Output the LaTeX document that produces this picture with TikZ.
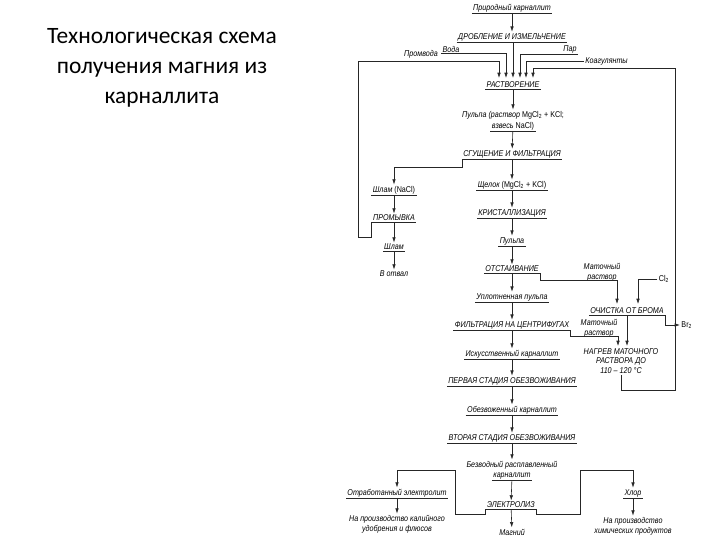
\documentclass[tikz,border=0pt]{standalone}
\usepackage{fontspec}
\newfontfamily\titlefont{Carlito}
\newfontfamily\schemefont[FakeStretch=0.85]{Liberation Sans}
\usetikzlibrary{arrows.meta}
\tikzset{
  lbl/.style={font=\schemefont\itshape\fontsize{7.2}{8.4}\selectfont, inner sep=1pt, align=center},
  flow/.style={-{Latex[length=4.5pt,width=3pt]}},
}
\begin{document}
\begin{tikzpicture}[x=0.03cm, y=-0.03cm, line width=0.5pt, draw=black!85]
            \useasboundingbox (0,0) rectangle (720,540);
            % Titolo
            \node[font=\titlefont\fontsize{20}{25.6}\selectfont, align=center] (ttl) at (162,68) {Технологическая схема\\получения магния из\\карналлита};
            % Colonna principale
            \node[lbl] (pk) at (512,8) {Природный карналлит};
            \node[lbl] (drob) at (512,37) {ДРОБЛЕНИЕ И ИЗМЕЛЬЧЕНИЕ};
            \node[lbl] (voda) at (451,49) {Вода};
            \node[lbl] (par) at (570,49) {Пар};
            \node[lbl] (promvoda) at (421,54) {Промвода};
            \node[lbl, anchor=west] (koag) at (584,61) {Коагулянты};
            \node[lbl] (rast) at (513,85) {РАСТВОРЕНИЕ};
            \node[lbl] (pulpa) at (513,115) {Пульпа (раствор {\upshape MgCl\textsubscript{2} + KCl;}};
            \node[lbl] (pulpab) at (513,126) {взвесь {\upshape NaCl)}};
            \node[lbl] (sgush) at (512,154) {СГУЩЕНИЕ И ФИЛЬТРАЦИЯ};
            \node[lbl] (shch) at (512,185) {Щелок {\upshape (MgCl\textsubscript{2} + KCl)}};
            \node[lbl] (krist) at (512,213) {КРИСТАЛЛИЗАЦИЯ};
            \node[lbl] (pulpa2) at (512,241) {Пульпа};
            \node[lbl] (otst) at (512,269) {ОТСТАИВАНИЕ};
            \node[lbl] (upl) at (512,297) {Уплотненная пульпа};
            \node[lbl] (filt) at (512,325) {ФИЛЬТРАЦИЯ НА ЦЕНТРИФУГАХ};
            \node[lbl] (isk) at (512,354) {Искусственный карналлит};
            \node[lbl] (perv) at (512,381) {ПЕРВАЯ СТАДИЯ ОБЕЗВОЖИВАНИЯ};
            \node[lbl] (obez) at (512,410) {Обезвоженный карналлит};
            \node[lbl] (vtor) at (512,438) {ВТОРАЯ СТАДИЯ ОБЕЗВОЖИВАНИЯ};
            \node[lbl] (bezv) at (512,465) {Безводный расплавленный};
            \node[lbl] (bezvb) at (512,476) {карналлит};
            \node[lbl] (elek) at (511,505) {ЭЛЕКТРОЛИЗ};
            \node[lbl] (magn) at (512,532) {Магний};
            % Шлам
            \node[lbl] (shlam1) at (394,190) {Шлам {\upshape (NaCl)}};
            \node[lbl] (promyvka) at (394,218) {ПРОМЫВКА};
            \node[lbl] (shlam2) at (394,247) {Шлам};
            \node[lbl] (votval) at (394,274) {В отвал};
            % Маточный раствор
            \node[lbl] (mat1) at (602,272) {Маточный\\раствор};
            \node[lbl] (cl) at (664,279) {\upshape Cl\textsubscript{2}};
            \node[lbl] (ochist) at (627,311) {ОЧИСТКА ОТ БРОМА};
            \node[lbl, anchor=west] (br) at (680,325) {\upshape Br\textsubscript{2}};
            \node[lbl] (mat2) at (599,328) {Маточный\\раствор};
            \node[lbl] (nagrev) at (621,361) {НАГРЕВ МАТОЧНОГО\\РАСТВОРА ДО\\110 – 120 °С};
            % Электролиз
            \node[lbl] (otr) at (397,493) {Отработанный электролит};
            \node[lbl] (kal) at (397,524) {На производство калийного\\удобрения и флюсов};
            \node[lbl] (hlor) at (633,493) {Хлор};
            \node[lbl] (him) at (633,526) {На производство\\химических продуктов};
            % Sottolineature
            \foreach \n in {pk,drob,rast,pulpab,sgush,shch,krist,pulpa2,otst,upl,filt,isk,perv,obez,vtor,bezvb,elek,shlam1,promyvka,shlam2,otr,hlor,ochist}
              \draw (\n.south west) -- (\n.south east);
            % Ingressi
            \coordinate (in1) at (499,78);
            \coordinate (in2) at (506,78);
            \coordinate (in3) at (513,78);
            \coordinate (in4) at (520,78);
            \coordinate (in5) at (526,78);
            \coordinate (in6) at (533,78);
            \coordinate (och1) at (617,304);
            \coordinate (och2) at (638,304);
            \coordinate (ng1) at (618,346);
            \coordinate (ng2) at (627,346);
            % Frecce
            \foreach \a/\b in {pk/drob,rast/pulpa,pulpab/sgush,sgush/shch,shch/krist,krist/pulpa2,pulpa2/otst,otst/upl,upl/filt,filt/isk,isk/perv,perv/obez,obez/vtor,vtor/bezv,bezvb/elek,elek/magn,shlam1/promyvka,promyvka/shlam2,shlam2/votval,otr/kal,hlor/him}
              \draw[flow] (\a) -- (\b);
            \draw[flow] (drob.south -| in3) -- (in3);
            \draw[flow] (voda.south west) -| (in2);
            \draw[flow] (par.south east) -| (in4);
            \draw[flow] (koag.west) -| (in5);
            \draw[flow] (promyvka.south west) |- (358,237) |- (499,61) -- (in1);
            \draw[flow] (nagrev.south) |- (675,390) |- (533,68) -- (in6);
            \draw[flow] (sgush.south west) |- (394,167) -- (shlam1);
            \draw[flow] (otst.south east) -- ++(0,7) -| (och1);
            \draw[flow] (cl.west) -| (och2);
            \draw[flow] (ochist.south -| ng2) -- (ng2);
            \draw[flow] (ochist.south east) |- (br.west);
            \draw[flow] (filt.south east) -- ++(0,6) -| (ng1);
            \draw[flow] (elek.south west) -- ++(0,5) -| (455,470) -| (otr);
            \draw[flow] (elek.south east) -- ++(0,5) -| (580,470) -| (hlor);
        \end{tikzpicture}
\end{document}
